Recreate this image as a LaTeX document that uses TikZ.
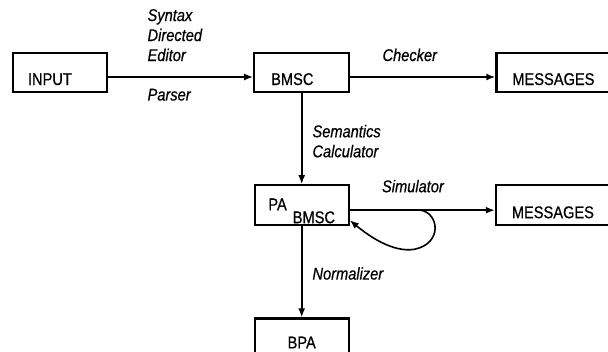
\documentclass[tikz,border=0pt]{standalone}
\usepackage{fontspec}
\setmainfont{Liberation Sans}[FakeStretch=0.86,FakeBold=0.6]
\usetikzlibrary{positioning,arrows.meta}
\newcommand{\diafont}{\fontsize{17pt}{20pt}\selectfont}

\begin{document}
\begin{tikzpicture}[%
    x=1pt, y=1pt,
    >={Latex[length=9pt,width=7pt]},  % small filled heads
    node distance=91pt and 145pt,     % box spacing, rows and columns
    ]
\tikzset{
  box/.style={draw, line width=2.2pt, inner ysep=0pt, minimum height=39pt,
    text height=32pt, text depth=7pt, font=\diafont},
  leftbox/.style={box, align=left, inner xsep=15pt, text width=64pt},
  lbl/.style={font=\diafont\itshape, align=left, inner sep=1pt},
  conn/.style={->, line width=1.6pt},
}
\useasboundingbox (0,0) rectangle (608,-351);

\node [leftbox] (input) at (60,-72.5) {INPUT};
\node [leftbox,inner xsep=17pt,text width=61pt,right=of input] (bmsc) {BMSC};
\node [box,minimum width=114pt,right=of bmsc] (msg1) {MESSAGES};

\node [box,minimum width=94pt,minimum height=40pt,text height=25pt,text depth=15pt,
  below=of bmsc] (pa) {PA\hspace{6pt}\raisebox{-13pt}{BMSC}};
\node [box,minimum width=114pt,minimum height=40pt,text height=33pt,
  right=of pa] (msg2) {MESSAGES};
\node [box,minimum width=94pt,text height=30pt,text depth=9pt,
  below=of pa] (bpa) {BPA};

% top row
\draw [conn] ([yshift=-4.5pt]input.east) --
  node [lbl,pos=0.26,anchor=south west,yshift=14pt] {Syntax\\Directed\\Editor}
  node [lbl,pos=0.26,anchor=north west,yshift=-10pt] {Parser}
  ([yshift=-4.5pt]bmsc.west);
\draw [conn] ([yshift=-4.5pt]bmsc.east) --
  node [lbl,pos=0.21,anchor=south west,yshift=14pt] {Checker}
  ([yshift=-4.5pt]msg1.west);

% down the middle
\draw [conn] (bmsc.south) --
  node [lbl,pos=0.33,anchor=north west,xshift=9pt] {Semantics\\Calculator}
  (pa.north);
\draw [conn] (pa.south) --
  node [lbl,pos=0.43,anchor=north west,xshift=9pt] {Normalizer}
  (bpa.north);

% simulator and its loop
\draw [conn] ([yshift=-5pt]pa.east) --
  node [lbl,pos=0.21,anchor=south west,yshift=16pt] {Simulator}
  coordinate [pos=0.49] (loop)
  ([yshift=-5pt]msg2.west);
\draw [conn] (loop) .. controls +(18,-3) and +(28,6) .. ++(-6,-39)
  .. controls +(-22,-4) and +(18,-15) .. ([yshift=-15pt]pa.east);

\end{tikzpicture}
\end{document}
